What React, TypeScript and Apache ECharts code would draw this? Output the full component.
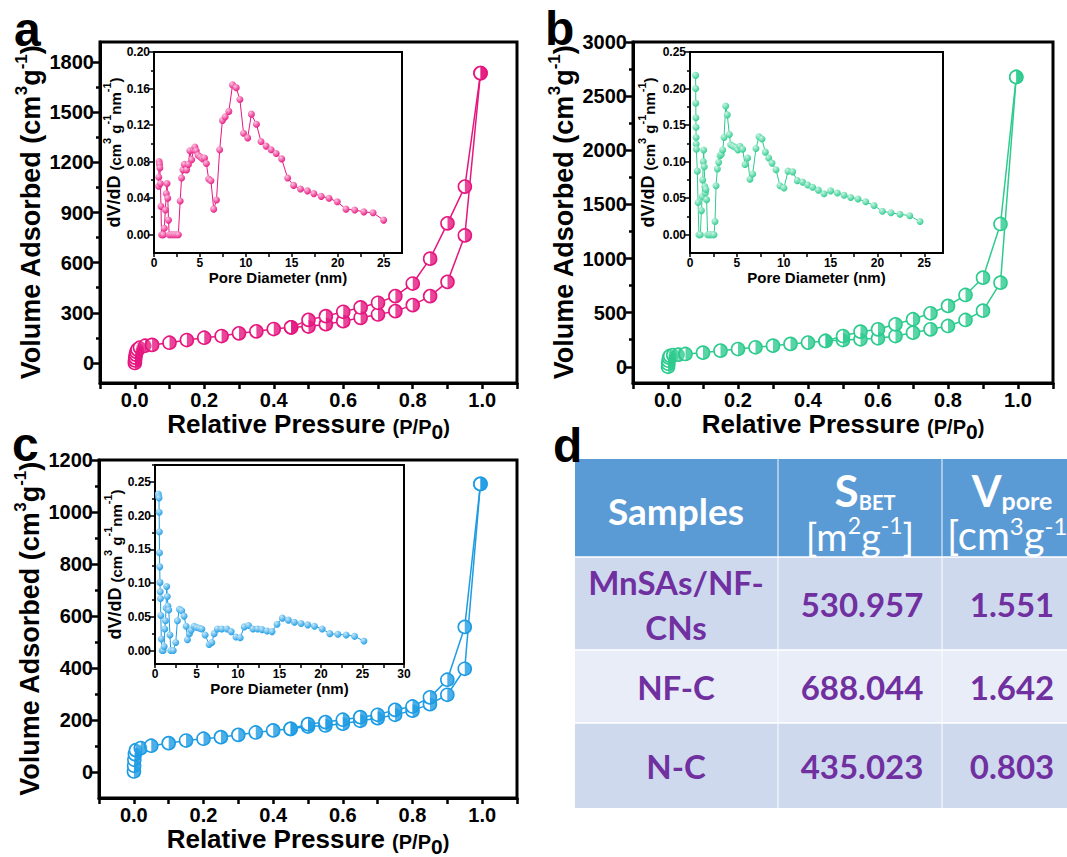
import React, { useEffect, useRef } from "react";
import * as echarts from "echarts";

// ---------- colours & fonts ----------
const PINK = "#E5177F";
const GREEN = "#2DCB8E";
const BLUE = "#1E9CE3";
const FONT = "'Liberation Sans', Arial, sans-serif";
const TABLE_FONT = "Lato, 'Open Sans', sans-serif";

// ---------- N2 isotherms: [P/P0, volume adsorbed (cm3 g-1)] ----------
const aAdsorption: number[][] = [
  [0.0003, 0], [0.0008, 15], [0.0015, 32], [0.003, 50], [0.005, 66], [0.008, 80],
  [0.015, 92], [0.03, 103], [0.05, 108], [0.1, 121], [0.15, 137], [0.2, 151],
  [0.25, 161], [0.3, 177], [0.35, 189], [0.4, 203], [0.45, 213], [0.5, 218],
  [0.55, 232], [0.6, 250], [0.65, 270], [0.7, 290], [0.75, 310], [0.8, 346],
  [0.85, 400], [0.9, 485], [0.95, 763], [0.995, 1734],
];
const aDesorption: number[][] = [
  [0.995, 1734], [0.95, 1055], [0.9, 835], [0.85, 624], [0.8, 475], [0.75, 400],
  [0.7, 360], [0.65, 332], [0.6, 306], [0.55, 280], [0.5, 258], [0.45, 213],
];
const bAdsorption: number[][] = [
  [0.0003, 0], [0.0008, 28], [0.0015, 56], [0.003, 84], [0.006, 100], [0.015, 108],
  [0.03, 112], [0.05, 118], [0.1, 130], [0.15, 149], [0.2, 164], [0.25, 180],
  [0.3, 195], [0.35, 211], [0.4, 223], [0.45, 238], [0.5, 247], [0.55, 254],
  [0.6, 263], [0.65, 284], [0.7, 315], [0.75, 346], [0.8, 377], [0.85, 432],
  [0.9, 518], [0.95, 777], [0.995, 2677],
];
const bDesorption: number[][] = [
  [0.995, 2677], [0.95, 1319], [0.9, 823], [0.85, 663], [0.8, 562], [0.75, 494],
  [0.7, 439], [0.65, 392], [0.6, 346], [0.55, 324], [0.5, 284], [0.45, 238],
];
const cAdsorption: number[][] = [
  [0.0003, 2], [0.0008, 24], [0.0015, 47], [0.003, 69], [0.006, 84], [0.02, 92],
  [0.05, 101], [0.1, 111], [0.15, 121], [0.2, 128], [0.25, 134], [0.3, 143],
  [0.35, 152], [0.4, 160], [0.45, 166], [0.5, 175], [0.55, 179], [0.6, 186],
  [0.65, 197], [0.7, 207], [0.75, 220], [0.8, 236], [0.85, 261], [0.9, 297],
  [0.95, 397], [0.995, 1108],
];
const cDesorption: number[][] = [
  [0.995, 1108], [0.95, 558], [0.9, 355], [0.85, 287], [0.8, 252], [0.75, 239],
  [0.7, 220], [0.65, 211], [0.6, 201], [0.55, 192], [0.5, 184], [0.45, 166],
];

// ---------- pore size distributions: [pore diameter (nm), dV/dD] ----------
const aPores: number[][] = [
  [0.5, 0.053], [0.52, 0.063], [0.56, 0.08], [0.6, 0.077], [0.64, 0.073], [0.7, 0.056],
  [0.76, 0.031], [0.82, 0], [0.92, 0], [1.02, 0], [1.12, 0.007], [1.24, 0.027],
  [1.34, 0.045], [1.42, 0.056], [1.5, 0.04], [1.58, 0.016], [1.66, 0], [1.85, 0],
  [2.05, 0], [2.25, 0], [2.45, 0], [2.65, 0], [2.85, 0.037], [3.0, 0.062],
  [3.15, 0.071], [3.3, 0.077], [3.55, 0.071], [3.75, 0.077], [3.9, 0.092], [4.1, 0.082],
  [4.3, 0.093], [4.45, 0.096], [4.6, 0.092], [4.8, 0.087], [5.05, 0.085], [5.3, 0.083],
  [5.5, 0.084], [5.7, 0.078], [5.95, 0.061], [6.2, 0.059], [6.5, 0.028], [6.8, 0.038],
  [7.15, 0.093], [7.45, 0.125], [7.75, 0.129], [8.15, 0.135], [8.55, 0.164], [8.95, 0.161],
  [9.35, 0.148], [9.75, 0.111], [10.2, 0.106], [10.6, 0.132], [11.15, 0.121], [11.65, 0.102],
  [12.2, 0.097], [12.75, 0.093], [13.3, 0.089], [13.9, 0.083], [14.55, 0.062], [15.2, 0.054],
  [15.95, 0.05], [16.7, 0.048], [17.4, 0.045], [18.2, 0.042], [19.05, 0.04], [19.95, 0.036],
  [20.9, 0.028], [21.85, 0.027], [22.85, 0.025], [23.85, 0.024], [25.0, 0.016],
];
const bPores: number[][] = [
  [0.6, 0.218], [0.61, 0.2], [0.62, 0.18], [0.63, 0.16], [0.64, 0.147], [0.65, 0.133],
  [0.66, 0.124], [0.68, 0.117], [0.78, 0.087], [0.86, 0.044], [0.95, 0], [1.1, 0],
  [1.22, 0.033], [1.3, 0.052], [1.36, 0.075], [1.42, 0.1], [1.46, 0.116], [1.52, 0.093],
  [1.58, 0.066], [1.64, 0.057], [1.7, 0.062], [1.77, 0.048], [1.88, 0], [2.05, 0],
  [2.2, 0], [2.4, 0], [2.56, 0], [2.67, 0.018], [2.78, 0.067], [2.92, 0.09],
  [3.06, 0.099], [3.2, 0.108], [3.34, 0.11], [3.49, 0.116], [3.63, 0.133], [3.81, 0.176],
  [3.98, 0.164], [4.2, 0.137], [4.34, 0.123], [4.62, 0.121], [4.91, 0.119], [5.12, 0.116],
  [5.33, 0.121], [5.62, 0.117], [5.87, 0.096], [6.15, 0.105], [6.4, 0.076], [6.69, 0.083],
  [7.04, 0.118], [7.36, 0.134], [7.68, 0.131], [8.04, 0.113], [8.4, 0.105], [8.75, 0.098],
  [9.18, 0.089], [9.6, 0.067], [10.03, 0.064], [10.46, 0.087], [10.96, 0.086], [11.45, 0.074],
  [12.02, 0.072], [12.56, 0.068], [13.09, 0.065], [13.7, 0.061], [14.3, 0.056], [15.01, 0.06],
  [15.72, 0.057], [16.44, 0.054], [17.15, 0.051], [17.93, 0.049], [18.75, 0.045], [19.64, 0.04],
  [20.53, 0.032], [21.45, 0.03], [22.41, 0.028], [23.45, 0.026], [24.55, 0.018],
];
const cPores: number[][] = [
  [0.4, 0.232], [0.45, 0.228], [0.48, 0.226], [0.5, 0.205], [0.52, 0.176], [0.54, 0.145],
  [0.57, 0.124], [0.6, 0.101], [0.63, 0.087], [0.66, 0.077], [0.7, 0.052], [0.76, 0.017],
  [0.86, 0], [0.98, 0], [1.1, 0.006], [1.18, 0.032], [1.26, 0.044], [1.34, 0.063],
  [1.41, 0.095], [1.48, 0.08], [1.56, 0.066], [1.66, 0.06], [1.8, 0.023], [1.9, 0],
  [2.2, 0], [2.5, 0.012], [2.7, 0.044], [2.94, 0.061], [3.22, 0.059], [3.5, 0.051],
  [3.75, 0.036], [3.91, 0.016], [4.15, 0.025], [4.35, 0.03], [4.71, 0.036], [5.03, 0.034],
  [5.36, 0.033], [5.64, 0.032], [6.04, 0.023], [6.52, 0.009], [6.85, 0.012], [7.13, 0.025],
  [7.53, 0.032], [8.05, 0.032], [8.66, 0.032], [9.18, 0.028], [9.75, 0.02], [10.27, 0.019],
  [10.75, 0.035], [11.27, 0.037], [11.8, 0.032], [12.36, 0.032], [12.89, 0.031], [13.49, 0.029],
  [14.1, 0.028], [14.7, 0.039], [15.34, 0.048], [16.07, 0.045], [16.8, 0.042], [17.6, 0.04],
  [18.4, 0.038], [19.21, 0.036], [20.14, 0.032], [21.06, 0.025], [22.03, 0.024], [23.03, 0.023],
  [24.04, 0.021], [25.17, 0.014],
];

// ---------- tick values ----------
const pressureLabels = [0, 0.2, 0.4, 0.6, 0.8, 1.0];
const pressureTicks = [-0.1, 0, 0.1, 0.2, 0.3, 0.4, 0.5, 0.6, 0.7, 0.8, 0.9, 1.0, 1.1];
const aVolumeLabels = [0, 300, 600, 900, 1200, 1500, 1800];
const aVolumeMinor = [150, 450, 750, 1050, 1350, 1650];
const bVolumeLabels = [0, 500, 1000, 1500, 2000, 2500, 3000];
const bVolumeMinor = [250, 750, 1250, 1750, 2250, 2750];
const cVolumeLabels = [0, 200, 400, 600, 800, 1000, 1200];
const cVolumeMinor = [100, 300, 500, 700, 900, 1100];
const aPoreYLabels = [0, 0.04, 0.08, 0.12, 0.16, 0.2];
const aPoreYMinor = [0.02, 0.06, 0.1, 0.14, 0.18];
const bPoreYLabels = [0, 0.05, 0.1, 0.15, 0.2, 0.25];
const bPoreYMinor = [0.025, 0.075, 0.125, 0.175, 0.225];
const cPoreYLabels = [0, 0.05, 0.1, 0.15, 0.2, 0.25];
const cPoreYMinor = [0.025, 0.075, 0.125, 0.175, 0.225, 0.275];
const poreXLabels25 = [0, 5, 10, 15, 20, 25];
const poreXTicks25 = [0, 2.5, 5, 7.5, 10, 12.5, 15, 17.5, 20, 22.5, 25];
const poreXLabels30 = [0, 5, 10, 15, 20, 25, 30];
const poreXTicks30 = [0, 2.5, 5, 7.5, 10, 12.5, 15, 17.5, 20, 22.5, 25, 27.5, 30];

// ---------- table (panel d) ----------
const tableHeaders = ["Samples", "S_BET [m2g-1]", "V_pore [cm3g-1]"];
const sampleNames = ["MnSAs/NF-\nCNs", "NF-C", "N-C"];
const surfaceAreas = ["530.957", "688.044", "435.023"];
const poreVolumes = ["1.551", "1.642", "0.803"];

const HALF_DISC = "path://M0,-10A10,10 0 0 1 0,10Z";

const bold = { fontFamily: FONT, fontWeight: "bold" as const, color: "#000" };

function xPressure(gridIndex: number) {
  return {
    type: "value", gridIndex, min: -0.1, max: 1.1,
    name: "{t|Relative Pressure }{pp|(P/P}{zero|0}{pp|)}",
    nameLocation: "middle", nameGap: 26,
    nameTextStyle: {
      rich: {
        t: { ...bold, fontSize: 26, lineHeight: 30, padding: [0, 0, 5, 0], verticalAlign: "bottom" },
        pp: { ...bold, fontSize: 20, lineHeight: 24, padding: [0, 0, 5, 0], verticalAlign: "bottom" },
        zero: { ...bold, fontSize: 21, lineHeight: 22, verticalAlign: "bottom" },
      },
    },
    axisLine: { show: true, onZero: false, lineStyle: { color: "#000", width: 3 } },
    axisTick: { show: true, customValues: pressureTicks, length: 6, lineStyle: { color: "#000", width: 2.5 } },
    axisLabel: { customValues: pressureLabels, formatter: (v: number) => v.toFixed(1), fontSize: 20, margin: 7, ...bold },
    splitLine: { show: false },
  };
}

function yVolume(gridIndex: number, min: number, max: number, labels: number[]) {
  return {
    type: "value", gridIndex, min, max, position: "left",
    name: "{t|Volume Adsorbed (cm}{sup|3}{t|g}{sup|-1}{t|)}",
    nameLocation: "middle", nameGap: 56,
    nameTextStyle: {
      rich: {
        t: { ...bold, fontSize: 27, lineHeight: 31, verticalAlign: "bottom" },
        sup: { ...bold, fontSize: 17, lineHeight: 17, verticalAlign: "top" },
      },
    },
    axisLine: { show: true, onZero: false, lineStyle: { color: "#000", width: 3 } },
    axisTick: { show: true, customValues: labels, length: 7, lineStyle: { color: "#000", width: 2.5 } },
    axisLabel: { customValues: labels, formatter: (v: number) => String(v), fontSize: 20, margin: 6, ...bold },
    splitLine: { show: false },
  };
}

function yMinor(gridIndex: number, min: number, max: number, values: number[], length: number, width: number) {
  return {
    type: "value", gridIndex, min, max, position: "left",
    axisLine: { show: false, onZero: false },
    axisTick: { show: true, customValues: values, length, lineStyle: { color: "#000", width } },
    axisLabel: { show: false },
    splitLine: { show: false },
  };
}

function xPore(gridIndex: number, max: number, labels: number[], ticks: number[]) {
  return {
    type: "value", gridIndex, min: 0, max,
    name: "Pore Diameter (nm)",
    nameLocation: "middle", nameGap: 17,
    nameTextStyle: { ...bold, fontSize: 15 },
    axisLine: { show: true, onZero: false, lineStyle: { color: "#000", width: 2 } },
    axisTick: { show: true, customValues: ticks, length: 4, lineStyle: { color: "#000", width: 1.5 } },
    axisLabel: { customValues: labels, formatter: (v: number) => String(v), fontSize: 12, margin: 4, ...bold },
    splitLine: { show: false },
  };
}

function yPore(gridIndex: number, min: number, max: number, labels: number[], nameGap: number) {
  return {
    type: "value", gridIndex, min, max, position: "left",
    name: "{t|dV/dD }{s|(cm}{sup|3}{s| g}{sup|-1}{s|nm}{sup|-1}{s|)}",
    nameLocation: "middle", nameGap,
    nameTextStyle: {
      rich: {
        t: { ...bold, fontSize: 18, lineHeight: 21, verticalAlign: "bottom" },
        s: { ...bold, fontSize: 15, lineHeight: 19, verticalAlign: "bottom" },
        sup: { ...bold, fontSize: 11, lineHeight: 11, verticalAlign: "top" },
      },
    },
    axisLine: { show: true, onZero: false, lineStyle: { color: "#000", width: 2 } },
    axisTick: { show: true, customValues: labels, length: 5, lineStyle: { color: "#000", width: 1.5 } },
    axisLabel: { customValues: labels, formatter: (v: number) => v.toFixed(2), fontSize: 12, margin: 4, ...bold },
    splitLine: { show: false },
  };
}

function isotherm(xi: number, yi: number, data: number[][], color: string) {
  return [
    {
      type: "line", xAxisIndex: xi, yAxisIndex: yi, data, z: 3,
      symbol: "circle", symbolSize: 13,
      lineStyle: { color, width: 1.5 },
      itemStyle: { color: "#fff", borderColor: color, borderWidth: 1.6 },
    },
    {
      type: "scatter", xAxisIndex: xi, yAxisIndex: yi, data, z: 4,
      symbol: HALF_DISC, symbolKeepAspect: true, symbolSize: 13, symbolOffset: [3.25, 0],
      itemStyle: { color },
    },
  ];
}

function poreSeries(xi: number, yi: number, data: number[][], color: string, light: string) {
  return {
    type: "line", xAxisIndex: xi, yAxisIndex: yi, data, z: 3,
    symbol: "circle", symbolSize: 7,
    lineStyle: { color, width: 1 },
    itemStyle: {
      color: {
        type: "radial", x: 0.35, y: 0.3, r: 0.75,
        colorStops: [{ offset: 0, color: light }, { offset: 1, color }],
      },
    },
  };
}

function letter(ch: string, x: number, y: number) {
  return {
    type: "text", x, y, z: 10,
    style: { text: ch, fill: "#000", fontSize: 48, fontWeight: "bold", fontFamily: FONT, align: "left", verticalAlign: "middle" },
  };
}

function tableGraphics() {
  const left = 575, right = 1067;
  const colX = [575, 778, 942];
  const rows = [
    { y: 459, h: 98, fill: "#5B9BD5" },
    { y: 557, h: 93, fill: "#CFD9EE" },
    { y: 650, h: 73, fill: "#E9EDF7" },
    { y: 723, h: 85, fill: "#CFD9EE" },
  ];
  const els: any[] = [];
  rows.forEach((r) => els.push({ type: "rect", shape: { x: left, y: r.y, width: right - left, height: r.h }, style: { fill: r.fill } }));
  [557, 650, 723].forEach((y) =>
    els.push({ type: "line", shape: { x1: left, y1: y, x2: right, y2: y }, style: { stroke: "#fff", lineWidth: 1.5 } })
  );
  colX.slice(1).forEach((x) =>
    els.push({ type: "line", shape: { x1: x, y1: 459, x2: x, y2: 808 }, style: { stroke: "#fff", lineWidth: 1.2, opacity: 0.8 } })
  );
  const white = "#fff";
  const purple = "#7030A0";
  const base = { fontFamily: TABLE_FONT, fontWeight: "bold" };
  // header
  els.push({ type: "text", x: 676, y: 510, style: { ...base, text: tableHeaders[0], fill: white, fontSize: 37, align: "center", verticalAlign: "middle" } });
  els.push({
    type: "text", x: 865, y: 490,
    style: {
      text: "{m|S}{s|BET}", align: "center", verticalAlign: "middle",
      rich: {
        m: { ...base, fill: white, fontSize: 44, lineHeight: 44, verticalAlign: "bottom" },
        s: { ...base, fill: white, fontSize: 20, lineHeight: 19, verticalAlign: "bottom" },
      },
    },
  });
  els.push({
    type: "text", x: 860, y: 534,
    style: {
      text: "{m|[m}{p|2}{m|g}{p|-1}{m|]}", align: "center", verticalAlign: "middle",
      rich: {
        m: { ...base, fill: white, fontSize: 38, lineHeight: 42, verticalAlign: "bottom", fontWeight: "normal" },
        p: { ...base, fill: white, fontSize: 23, lineHeight: 22, verticalAlign: "top", fontWeight: "normal" },
      },
    },
  });
  els.push({
    type: "text", x: 1012, y: 490,
    style: {
      text: "{m|V}{s|pore}", align: "center", verticalAlign: "middle",
      rich: {
        m: { ...base, fill: white, fontSize: 43, lineHeight: 44, verticalAlign: "bottom" },
        s: { ...base, fill: white, fontSize: 25, lineHeight: 22, verticalAlign: "bottom" },
      },
    },
  });
  els.push({
    type: "text", x: 947, y: 534,
    style: {
      text: "{m|[cm}{p|3}{m|g}{p|-1}{m|]}", align: "left", verticalAlign: "middle",
      rich: {
        m: { ...base, fill: white, fontSize: 40, lineHeight: 42, verticalAlign: "bottom", fontWeight: "normal" },
        p: { ...base, fill: white, fontSize: 24, lineHeight: 22, verticalAlign: "top", fontWeight: "normal" },
      },
    },
  });
  // body
  const rowCenters = [604, 687, 766];
  rowCenters.forEach((cy, i) => {
    els.push({ type: "text", x: 676, y: cy, style: { ...base, text: sampleNames[i], fill: purple, fontSize: 33, lineHeight: 45, align: "center", verticalAlign: "middle" } });
    els.push({ type: "text", x: 862, y: cy, style: { ...base, text: surfaceAreas[i], fill: purple, fontSize: 33, align: "center", verticalAlign: "middle" } });
    els.push({ type: "text", x: 1012, y: cy, style: { ...base, text: poreVolumes[i], fill: purple, fontSize: 33, align: "center", verticalAlign: "middle" } });
  });
  return els;
}

export default function App() {
  const ref = useRef<HTMLDivElement>(null);

  useEffect(() => {
    if (!ref.current) return;
    const chart = echarts.init(ref.current, undefined, { renderer: "svg" });

    const mainGrid = { show: true, borderColor: "#000", borderWidth: 3, containLabel: false, outerBoundsMode: "none" };
    const insetGrid = { show: true, borderColor: "#000", borderWidth: 2, containLabel: false, outerBoundsMode: "none" };

    const option: any = {
      animation: false,
      backgroundColor: "#fff",
      grid: [
        { ...mainGrid, left: 100, top: 42, width: 417, height: 341 },
        { ...insetGrid, left: 154, top: 52, width: 248, height: 201 },
        { ...mainGrid, left: 633, top: 42, width: 420, height: 341 },
        { ...insetGrid, left: 690, top: 52, width: 253, height: 201 },
        { ...mainGrid, left: 99, top: 460, width: 418, height: 338 },
        { ...insetGrid, left: 155, top: 465, width: 249, height: 199 },
      ],
      xAxis: [
        xPressure(0),
        xPore(1, 27, poreXLabels25, poreXTicks25),
        xPressure(2),
        xPore(3, 27, poreXLabels25, poreXTicks25),
        xPressure(4),
        xPore(5, 30, poreXLabels30, poreXTicks30),
      ],
      yAxis: [
        yVolume(0, -120, 1920, aVolumeLabels),
        yMinor(0, -120, 1920, aVolumeMinor, 4, 2.5),
        yPore(1, -0.02, 0.2, aPoreYLabels, 31),
        yMinor(1, -0.02, 0.2, aPoreYMinor, 3, 1.5),
        yVolume(2, -150, 3000, bVolumeLabels),
        yMinor(2, -150, 3000, bVolumeMinor, 4, 2.5),
        yPore(3, -0.025, 0.25, bPoreYLabels, 33),
        yMinor(3, -0.025, 0.25, bPoreYMinor, 3, 1.5),
        yVolume(4, -100, 1200, cVolumeLabels),
        yMinor(4, -100, 1200, cVolumeMinor, 4, 2.5),
        yPore(5, -0.02, 0.275, cPoreYLabels, 31),
        yMinor(5, -0.02, 0.275, cPoreYMinor, 3, 1.5),
      ],
      series: [
        ...isotherm(0, 0, aAdsorption, PINK),
        ...isotherm(0, 0, aDesorption, PINK),
        poreSeries(1, 2, aPores, PINK, "#FFC2E2"),
        ...isotherm(2, 4, bAdsorption, GREEN),
        ...isotherm(2, 4, bDesorption, GREEN),
        poreSeries(3, 6, bPores, GREEN, "#C8F5E2"),
        ...isotherm(4, 8, cAdsorption, BLUE),
        ...isotherm(4, 8, cDesorption, BLUE),
        poreSeries(5, 10, cPores, BLUE, "#C6E8FB"),
      ],
      graphic: {
        elements: [
          letter("a", 14, 29),
          letter("b", 545, 28),
          letter("c", 12, 444),
          letter("d", 553, 445),
          ...tableGraphics(),
        ],
      },
    };

    chart.setOption(option);
    return () => chart.dispose();
  }, []);

  return (
    <div
      ref={ref}
      style={{ position: "absolute", left: 0, top: 0, width: 1067, height: 857, background: "#fff" }}
    />
  );
}
